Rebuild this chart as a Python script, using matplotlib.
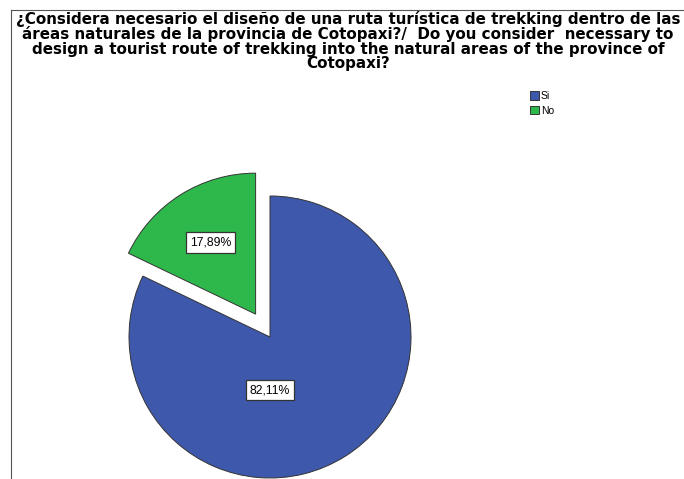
import matplotlib.pyplot as plt
from matplotlib.lines import Line2D

# data
categories = ['Si', 'No']
percentages = [82.11, 17.89]
colors = ['#3E58AC', '#2EB84B']

title = ('¿Considera necesario el diseño de una ruta turística de trekking dentro de las\n'
         'áreas naturales de la provincia de Cotopaxi?/  Do you consider  necessary to\n'
         'design a tourist route of trekking into the natural areas of the province of\n'
         'Cotopaxi?')

plt.rcParams['font.family'] = ['Liberation Sans', 'DejaVu Sans']

fig = plt.figure(figsize=(6.84, 4.79), dpi=100)
ax = fig.add_axes([0, 0, 1, 1])

# frame of the SPSS chart area (top and left edge only visible)
fig.add_artist(Line2D([11 / 684, 1], [1 - 10 / 479, 1 - 10 / 479], color='#555555', lw=0.8,
                      transform=fig.transFigure))
fig.add_artist(Line2D([11 / 684, 11 / 684], [0, 1 - 10 / 479], color='#555555', lw=0.8,
                      transform=fig.transFigure))

fig.text(348 / 684, 1 - 11 / 479, title, ha='center', va='top', fontsize=10.9,
         family='DejaVu Sans', fontweight='bold', linespacing=0.95)

wedges, texts, autotexts = ax.pie(
    percentages, colors=colors, startangle=90, counterclock=False,
    radius=141, center=(270, 142), explode=[0, 27], frame=True,
    autopct=lambda p: f'{p:.2f}%'.replace('.', ','), pctdistance=0.6,
    wedgeprops=dict(edgecolor='#333333', linewidth=0.7),
    textprops=dict(fontsize=8.8, color='black'))
ax.set_xlim(0, 684)
ax.set_ylim(0, 479)
ax.set_aspect('equal')
ax.axis('off')

for t in autotexts:
    t.set_bbox(dict(facecolor='white', edgecolor='#333333', linewidth=0.9, pad=3))
# SPSS puts the big slice's label straight below the centre
autotexts[0].set_position((270, 142 - 0.376 * 141))

ax.legend(wedges, categories, loc='upper left', bbox_to_anchor=(530 / 684, 1 - 91 / 479),
          bbox_transform=fig.transFigure, frameon=False, fontsize=7.5,
          handlelength=0.85, handleheight=0.85, handletextpad=0.2, labelspacing=0.45,
          borderpad=0, borderaxespad=0)

fig.savefig('out.png', dpi=100)
